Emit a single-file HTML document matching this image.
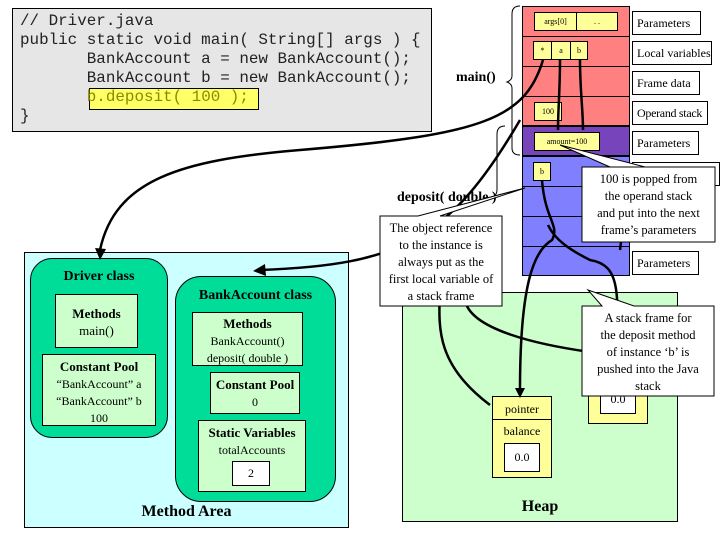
<!DOCTYPE html>
<html><head><meta charset="utf-8"><style>
body{margin:0;width:720px;height:540px;background:#fff;position:relative;overflow:hidden;font-family:"Liberation Serif",serif;}
.a{position:absolute;box-sizing:border-box;}
.b{border:1px solid #000;}
.c{text-align:center;}
.lab{position:absolute;box-sizing:border-box;border:1px solid #000;background:#fff;font-size:12px;padding-left:4px;line-height:22px;white-space:nowrap;}
.yb{position:absolute;box-sizing:border-box;border:1px solid #000;background:#ffff99;font-size:8px;text-align:center;line-height:17px;}
pre{margin:0;font-family:"Liberation Mono",monospace;font-size:15.9px;line-height:19px;}
.co{white-space:nowrap;font-size:12.5px;line-height:17px;}
</style></head><body>
<div class="a b" style="left:12px;top:8px;width:420px;height:124px;background:#e6e6e6;"></div>
<div class="a" style="left:89px;top:88px;width:170px;height:22px;background:#ffff66;border:1px solid #000;"></div>
<pre class="a" style="left:20px;top:12px;color:#222;">// Driver.java
public static void main( String[] args ) {
       BankAccount a = new BankAccount();
       BankAccount b = new BankAccount();
       <span style="color:#8a8a00">b.deposit( 100 );</span>
}</pre>

<div class="a b" style="left:24px;top:252px;width:325px;height:276px;background:#ccffff;"></div>
<div class="a c" style="left:24px;top:503px;width:325px;font-weight:bold;font-size:16px;">Method Area</div>
<div class="a b" style="left:30px;top:258px;width:138px;height:180px;background:#00dd99;border-radius:22px;"></div>
<div class="a c" style="left:30px;top:269px;width:138px;font-weight:bold;font-size:14px;">Driver class</div>
<div class="a b c" style="left:55px;top:294px;width:83px;height:54px;background:#ccffcc;font-size:13px;padding-top:10px;line-height:17px;"><b>Methods</b><br>main()</div>
<div class="a b c" style="left:42px;top:354px;width:114px;height:72px;background:#ccffcc;font-size:12px;padding-top:3px;line-height:17px;"><b style="font-size:13px">Constant Pool</b><br>“BankAccount” a<br>“BankAccount” b<br>100</div>
<div class="a b" style="left:175px;top:276px;width:161px;height:226px;background:#00dd99;border-radius:26px;"></div>
<div class="a c" style="left:175px;top:288px;width:161px;font-weight:bold;font-size:14px;">BankAccount class</div>
<div class="a b c" style="left:192px;top:312px;width:111px;height:54px;background:#ccffcc;font-size:12px;padding-top:2px;line-height:17px;"><b style="font-size:13px">Methods</b><br>BankAccount()<br>deposit( double )</div>
<div class="a b c" style="left:210px;top:372px;width:90px;height:42px;background:#ccffcc;font-size:12px;padding-top:3px;line-height:17px;"><b style="font-size:13px">Constant Pool</b><br>0</div>
<div class="a b c" style="left:198px;top:420px;width:108px;height:72px;background:#ccffcc;font-size:12px;padding-top:3px;line-height:17px;"><b style="font-size:13px">Static Variables</b><br>totalAccounts</div>
<div class="a b c" style="left:232px;top:461px;width:38px;height:25px;background:#fff;font-size:12px;line-height:23px;">2</div>

<div class="a b" style="left:402px;top:292px;width:276px;height:230px;background:#ccffcc;"></div>
<div class="a c" style="left:402px;top:498px;width:276px;font-weight:bold;font-size:16px;">Heap</div>
<div class="a b" style="left:492px;top:396px;width:60px;height:82px;background:#ffff99;"></div>
<div class="a b c" style="left:492px;top:396px;width:60px;height:24px;font-size:12px;line-height:24px;">pointer</div>
<div class="a c" style="left:492px;top:424px;width:60px;font-size:12px;">balance</div>
<div class="a b c" style="left:504px;top:443px;width:36px;height:29px;background:#fff;font-size:12px;line-height:27px;">0.0</div>
<div class="a b" style="left:588px;top:370px;width:60px;height:54px;background:#ffff99;"></div>
<div class="a b c" style="left:600px;top:385px;width:36px;height:29px;background:#fff;font-size:12px;line-height:27px;">0.0</div>

<div class="a b" style="left:522px;top:6px;width:108px;height:120px;background:#ff8080;"></div>
<div class="a" style="left:522px;top:36px;width:108px;border-top:1px solid #000;"></div>
<div class="a" style="left:522px;top:66px;width:108px;border-top:1px solid #000;"></div>
<div class="a" style="left:522px;top:96px;width:108px;border-top:1px solid #000;"></div>
<div class="a b" style="left:522px;top:126px;width:108px;height:30px;background:#7744bb;"></div>
<div class="a b" style="left:522px;top:156px;width:108px;height:120px;background:#8080ff;"></div>
<div class="a" style="left:522px;top:186px;width:108px;border-top:1px solid #000;"></div>
<div class="a" style="left:522px;top:216px;width:108px;border-top:1px solid #000;"></div>
<div class="a" style="left:522px;top:246px;width:108px;border-top:1px solid #000;"></div>
<div class="yb" style="left:534px;top:12px;width:43px;height:19px;">args[0]</div>
<div class="yb" style="left:576px;top:12px;width:42px;height:19px;">. .</div>
<div class="yb" style="left:533px;top:41px;width:19px;height:19px;">*</div>
<div class="yb" style="left:551px;top:41px;width:20px;height:19px;">a</div>
<div class="yb" style="left:570px;top:41px;width:18px;height:19px;">b</div>
<div class="yb" style="left:534px;top:102px;width:28px;height:19px;">100</div>
<div class="yb" style="left:534px;top:132px;width:66px;height:19px;">amount=100</div>
<div class="yb" style="left:533px;top:162px;width:18px;height:19px;">b</div>
<div class="lab" style="left:632px;top:11px;width:69px;height:24px;">Parameters</div>
<div class="lab" style="left:632px;top:41px;width:80px;height:24px;">Local variables</div>
<div class="lab" style="left:632px;top:71px;width:68px;height:24px;">Frame data</div>
<div class="lab" style="left:632px;top:101px;width:76px;height:24px;letter-spacing:-0.3px;">Operand stack</div>
<div class="lab" style="left:632px;top:131px;width:67px;height:24px;">Parameters</div>
<div class="lab" style="left:632px;top:162px;width:88px;height:24px;"></div>
<div class="lab" style="left:632px;top:251px;width:67px;height:24px;">Parameters</div>
<div class="a" style="left:456px;top:70px;font-weight:bold;font-size:14px;">main()</div>
<div class="a" style="left:397px;top:190px;font-weight:bold;font-size:14px;">deposit( double )</div>

<svg class="a" style="left:0;top:0" width="720" height="540">
<g fill="none" stroke="#000" stroke-width="1">
<path d="M520 6 Q512 6 512 14 L512 76 Q512 80 507 82 Q512 84 512 88 L512 148 Q512 155 520 155"/>
<path d="M505 126 Q497 126 497 134 L497 190 Q497 195 492 198"/>
</g>
<g fill="none" stroke="#000" stroke-width="2.5">
<path d="M543 60 C525 120 480 135 300 150 C180 160 115 180 100 250"/>
<path d="M560 60 C560 90 558 110 558 130"/>
<path d="M580 60 C580 90 583 110 583 130"/>
<path d="M542 180 C545 220 560 225 552 240 C535 250 520 280 520 390"/>
<path d="M548 225 C555 240 570 250 590 260 C620 265 620 290 615 370"/>
<path d="M440 280 C440 320 430 360 490 405"/>
<path d="M465 300 C470 330 540 345 590 352"/>
<path d="M610 160 C615 180 625 220 620 250"/>
<path d="M520 120 C450 240 400 265 260 270"/>
</g>
<path d="M95 248 L100 260 L106 249 Z"/>
<path d="M515 388 L520 398 L525 388 Z"/>
<path d="M265 264 L253 271 L266 276 Z"/>
</svg>

<svg class="a" style="left:0;top:0" width="720" height="540">
<g fill="#fff" stroke="#000" stroke-width="1">
<polygon points="582,167 645,167 560,145 610,167 715,167 715,242 582,242"/>
<polygon points="380,216 418,216 525,188 440,216 502,216 502,306 380,306"/>
<polygon points="582,306 602,306 588,290 634,306 714,306 714,396 582,396"/>
</g>
</svg>
<div class="a c co" style="left:582px;top:171px;width:133px;">100 is popped from<br>the operand stack<br>and put into the next<br>frame’s parameters</div>
<div class="a c co" style="left:380px;top:220px;width:122px;">The object reference<br>to the instance is<br>always put as the<br>first local variable of<br>a stack frame</div>
<div class="a c co" style="left:582px;top:310px;width:132px;">A stack frame for<br>the deposit method<br>of instance ‘b’ is<br>pushed into the Java<br>stack</div>
</body></html>
